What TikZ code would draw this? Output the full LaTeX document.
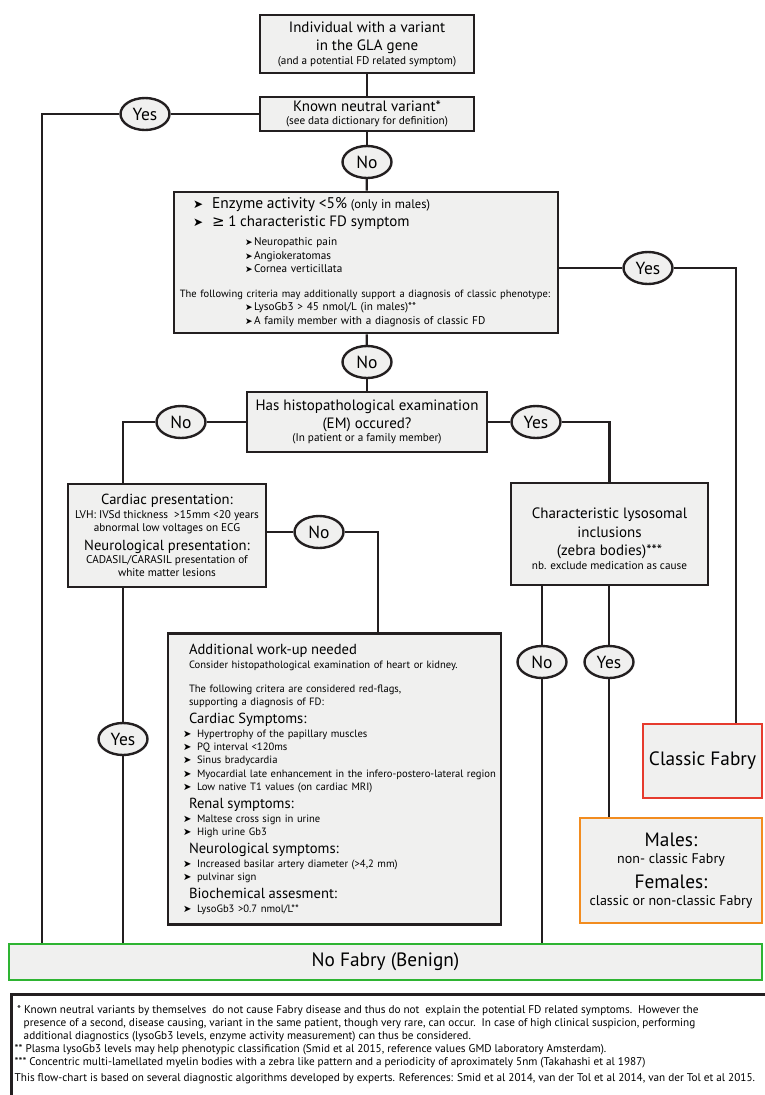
\documentclass[tikz,border=0pt]{standalone}
\usepackage{fontspec}
\setmainfont{PT Sans}
\newfontfamily\symfont{DejaVu Sans}
\usetikzlibrary{shapes.geometric}
\definecolor{boxgray}{HTML}{F0F0EF}
\definecolor{lineblack}{HTML}{231F20}
\definecolor{fdred}{HTML}{E63B2E}
\definecolor{fdorange}{HTML}{F28C1F}
\definecolor{fdgreen}{HTML}{2EB432}
\newcommand{\fdhuge}{\fontsize{19.3}{22}\selectfont\lineskiplimit=-40pt}
\newcommand{\fdbig}{\fontsize{15}{18}\selectfont\lineskiplimit=-40pt}
\newcommand{\fdmid}{\fontsize{14.6}{18}\selectfont\lineskiplimit=-40pt}
\newcommand{\fdlarge}{\fontsize{14}{17}\selectfont\lineskiplimit=-40pt}
\newcommand{\fdsmall}{\fontsize{11.2}{13}\selectfont\lineskiplimit=-40pt}
\newcommand{\fdlist}{\fontsize{10.6}{13}\selectfont\lineskiplimit=-40pt}
\newcommand{\fdyesno}{\fontsize{17.5}{17.5}\selectfont}
\newcommand{\fdarrow}[1]{{\symfont\fontsize{#1}{#1}\selectfont ➤}}
\newcommand{\fditem}{\hspace*{13.5pt}\makebox[14pt][l]{\fdarrow{10}}}
\newcommand{\fdsub}{\hspace*{66pt}\makebox[9pt][l]{\fdarrow{9}}}
\begin{document}
\begin{tikzpicture}[x=1pt, y=-1pt, -,
  main node/.style={rectangle, draw=lineblack, line width=2.6pt, fill=boxgray, inner sep=0pt, align=center},
  answer node/.style={ellipse, draw=lineblack, line width=2.4pt, fill=boxgray, minimum width=49pt, minimum height=32pt, inner sep=0pt, font=\fdyesno},
  link/.style={draw=lineblack, line width=2.2pt}]
  \tikzstyle{every node}=[font=\fdsmall]
  \useasboundingbox (0,0) rectangle (764,1095);

  % top of the chart
  \node[main node, minimum width=214pt, minimum height=58pt, font=\fdbig] (1) at (367,44) {\fdbig Individual with a variant\\\fdbig in the GLA gene\\[-4pt]\fdsmall (and a potential FD related symptom)};
  \node[main node, minimum width=214pt, minimum height=34pt, font=\fdbig] (2) at (367,114) {\fdbig Known neutral variant*\\[-5pt]\fdsmall (see data dictionary for definition)};
  \node[answer node] (3) at (145,114) {Yes};
  \node[answer node] (4) at (367,162) {No};
  \node[main node, minimum width=384pt, minimum height=141pt, text width=374pt, align=left] (5) at (366,262.5) {%
    \hspace*{14pt}\makebox[19pt][l]{\fdarrow{12}}{\fontsize{15.5}{18}\selectfont Enzyme activity <5\%} {\fontsize{12.5}{13}\selectfont(only in males)}\\[5pt]
    \hspace*{14pt}\makebox[19pt][l]{\fdarrow{12}}{\fdbig{\symfont ≥} 1 characteristic FD symptom}\\[6pt]
    \fdsub Neuropathic pain\\[1pt]
    \fdsub Angiokeratomas\\
    \fdsub Cornea verticillata\\[12pt]
    \leavevmode\makebox[372pt][c]{\fontsize{10.5}{13}\selectfont The following criteria may additionally support a diagnosis of classic phenotype:}\\
    \fdsub LysoGb3 > 45 nmol/L (in males)**\\[1pt]
    \fdsub A family member with a diagnosis of classic FD};
  \node[answer node] (6) at (648,268) {Yes};
  \node[answer node] (7) at (367,362) {No};

  % histopathology
  \node[main node, minimum width=240pt, minimum height=60pt, font=\fdbig] (8) at (367,422) {\fdbig Has histopathological examination\\\fdbig (EM) occured?\\[-5pt]\fdsmall (In patient or a family member)};
  \node[answer node] (9) at (181,422) {No};
  \node[answer node] (10) at (536,422) {Yes};
  \node[main node, minimum width=198pt, minimum height=103pt] (11) at (167,535.5) {\fdmid Cardiac presentation:\\[1pt]LVH: IVSd thickness\ \ >15mm <20 years\\abnormal low voltages on ECG\\[6pt]\fdmid Neurological presentation:\\CADASIL/CARASIL presentation of\\white matter lesions};
  \node[answer node] (12) at (319,532) {No};
  \node[main node, minimum width=197pt, minimum height=102pt, font=\fdbig] (13) at (609.5,534) {\rule{0pt}{20pt}\fdbig Characteristic lysosomal\\[1pt]\fdbig inclusions\\\fdbig (zebra bodies)***\\[-4pt]\fdsmall nb. exclude medication as cause};
  \node[main node, minimum width=333pt, minimum height=291pt, text width=330pt, align=left, font=\fdlist] (14) at (334.5,779) {%
    \hspace*{19.5pt}{\fdmid Additional work-up needed}\\[1pt]
    \hspace*{19.5pt}Consider histopathological examination of heart or kidney.\\[11pt]
    \hspace*{19.5pt}The following critera are considered red-flags,\\
    \hspace*{19.5pt}supporting a diagnosis of FD:\\[5pt]
    \hspace*{19.5pt}{\fdmid Cardiac Symptoms:}\\[1pt]
    \fditem Hypertrophy of the papillary muscles\\
    \fditem PQ interval <120ms\\
    \fditem Sinus bradycardia\\[1pt]
    \fditem \mbox{Myocardial late enhancement in the infero-postero-lateral region}\\
    \fditem Low native T1 values (on cardiac MRI)\\[5pt]
    \hspace*{19.5pt}{\fdmid Renal symptoms:}\\[1pt]
    \fditem Maltese cross sign in urine\\
    \fditem High urine Gb3\\[5pt]
    \hspace*{19.5pt}{\fdmid Neurological symptoms:}\\[1pt]
    \fditem Increased basilar artery diameter (>4,2 mm)\\
    \fditem pulvinar sign\\[5pt]
    \hspace*{19.5pt}{\fdmid Biochemical assesment:}\\[1pt]
    \fditem LysoGb3 >0.7 nmol/L**};
  \node[answer node] (15) at (542,662) {No};
  \node[answer node] (16) at (609,662) {Yes};
  \node[answer node] (17) at (123,739) {Yes};

  % outcomes
  \node[main node, draw=fdred, line width=2.5pt, minimum width=119pt, minimum height=74pt, font=\fdhuge] (18) at (702.5,761) {Classic Fabry};
  \node[main node, draw=fdorange, line width=2.5pt, minimum width=182pt, minimum height=105pt, font=\fdlarge] (19) at (671,870.5) {\fdhuge Males:\\\fdlarge non- classic Fabry\\[8pt]\fdhuge Females:\\\fdlarge classic or non-classic Fabry};
  \node[main node, draw=fdgreen, line width=2pt, minimum width=753pt, minimum height=36pt, font=\fdhuge] (20) at (385.5,962) {No Fabry (Benign)};

  \coordinate (c1) at (42,114);
  \coordinate (c2) at (736,268);
  \coordinate (c3) at (123,422);
  \coordinate (c4) at (378,532);

  \path[link]
    (1) edge (2)
    (2) edge (3)
    (2) edge (4)
    (4) edge (5)
    (5.east |- 6) edge (6)
    (5) edge (7)
    (7) edge (8)
    (8) edge (9)
    (8) edge (10)
    (11.east |- 12) edge (12)
    (13.south -| 15) edge (15)
    (15) edge (15 |- 20.north)
    (13.south -| 16) edge (16)
    (16) edge (16 |- 19.north)
    (11.south -| 17) edge (17)
    (17) edge (17 |- 20.north);
  \draw[link] (3) -- (c1) -- (c1 |- 20.north);
  \draw[link] (6) -- (c2) -- (c2 |- 18.north);
  \draw[link] (9) -- (c3) -- (c3 |- 11.north);
  \draw[link] (10) -| (13);
  \draw[link] (12) -- (c4) -- (c4 |- 14.north);

  % footnotes
  \draw[lineblack, line width=3pt] (11,994.5) rectangle (780,1110);
  \node[anchor=north west, align=left, inner sep=0pt] (21) at (14.5,1005) {%
    \hspace*{2.5pt}* Known neutral variants by themselves\ \ do not cause Fabry disease and thus do not\ \ explain the potential FD related symptoms.\ \ However the\\
    \hspace*{9pt}presence of a second, disease causing, variant in the same patient, though very rare, can occur.\ \ In case of high clinical suspicion, performing\\
    \hspace*{9pt}additional diagnostics (lysoGb3 levels, enzyme activity measurement) can thus be considered.\\
    ** Plasma lysoGb3 levels may help phenotypic classification (Smid et al 2015, reference values GMD laboratory Amsterdam).\\
    *** Concentric multi-lamellated myelin bodies with a zebra like pattern and a periodicity of aproximately 5nm (Takahashi et al 1987)\\[3pt]
    This flow-chart is based on several diagnostic algorithms developed by experts. References: Smid et al 2014, van der Tol et al 2014, van der Tol et al 2015.};
\end{tikzpicture}
\end{document}
